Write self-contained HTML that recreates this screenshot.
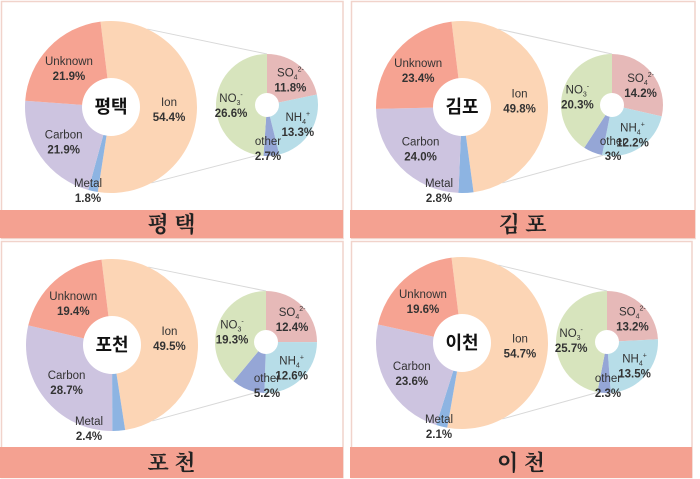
<!DOCTYPE html>
<html><head><meta charset="utf-8"><style>
body{margin:0;background:#fff;}
svg{display:block;font-family:"Liberation Sans","Noto Sans CJK KR",sans-serif;}
</style></head><body>
<svg id="c" width="700" height="479" viewBox="0 0 700 479"></svg>
<script>
const sites = ['평택','김포','포천','이천'];
const mainLabels = ['Ion','Metal','Carbon','Unknown'];
const mainValues = [[54.4,1.8,21.9,21.9],[49.8,2.8,24.0,23.4],[49.5,2.4,28.7,19.4],[54.7,2.1,23.6,19.6]];
const ionLabels = ['SO4','NH4','other','NO3'];
const ionValues = [[11.8,13.3,2.7,26.6],[14.2,12.2,3,20.3],[12.4,12.6,5.2,19.3],[13.2,13.5,2.3,25.7]];
const ionText = [['11.8%','13.3%','2.7%','26.6%'],['14.2%','12.2%','3%','20.3%'],['12.4%','12.6%','5.2%','19.3%'],['13.2%','13.5%','2.3%','25.7%']];

const mainColors=['#fcd5b5','#8db4e2','#cdc4e0','#f6a392'];
const ionColors=['#e6b9b8','#b7dde8','#95a6d6','#d7e4bd'];
const panels=[{x:0,y:0,bx:111,by:107,sx:267,sy:105,bw:343,bt:210,bh:28},
{x:350,y:0,bx:462,by:107,sx:612,sy:105,bw:345,bt:210,bh:28},
{x:0,y:240,bx:112,by:345,sx:266,sy:342,bw:343,bt:447,bh:31},
{x:350,y:240,bx:462,by:343,sx:607,sy:342,bw:342,bt:447,bh:31}];
const svg=document.getElementById('c');
const NS='http://www.w3.org/2000/svg';
function mk(t,a,p){const e=document.createElementNS(NS,t);for(const k in a)e.setAttribute(k,a[k]);(p||svg).appendChild(e);return e;}
function pt(cx,cy,r,deg){const a=(deg-90)*Math.PI/180;return [cx+r*Math.cos(a),cy+r*Math.sin(a)];}
function arc(cx,cy,r,a0,a1){const p0=pt(cx,cy,r,a0),p1=pt(cx,cy,r,a1);const l=(a1-a0)>180?1:0;
return `M${cx},${cy}L${p0[0]},${p0[1]}A${r},${r} 0 ${l} 1 ${p1[0]},${p1[1]}Z`;}
function label(g,x,y,l1,l2){
  const t=mk('text',{x:x,y:y,'text-anchor':'middle','font-size':'11.5','fill':'#333'},g);
  
  
  const s1=mk('tspan',{x:x},t);
  if(l1==='SO4'){s1.textContent='SO';mk('tspan',{'font-size':'7','dy':'3'},t).textContent='4';mk('tspan',{'font-size':'7','dy':'-8'},t).textContent='2-';}
  else if(l1==='NH4'){s1.textContent='NH';mk('tspan',{'font-size':'7','dy':'3'},t).textContent='4';mk('tspan',{'font-size':'7','dy':'-8'},t).textContent='+';}
  else if(l1==='NO3'){s1.textContent='NO';mk('tspan',{'font-size':'7','dy':'3'},t).textContent='3';mk('tspan',{'font-size':'7','dy':'-8'},t).textContent='-';}
  else s1.textContent=l1;
  const s2=mk('tspan',{x:x,y:y+15,'font-weight':'bold'},t);s2.textContent=l2;
}
panels.forEach((p,i)=>{
  const g=mk('g',{});
  
  
  mk('rect',{x:p.x+1.5,y:p.y+1.5,width:p.bw-1.5,height:(i<2?237:236),fill:'none',stroke:'#f1d3cb','stroke-width':'1.5'},g);
  const tb=pt(p.bx,p.by,86,25), bb=pt(p.bx,p.by,86,152);
  mk('line',{x1:tb[0],y1:tb[1],x2:p.sx,y2:p.sy-51,stroke:'#d8d8d8','stroke-width':'1'},g);
  const sb=pt(p.sx,p.sy,51,190);
  mk('line',{x1:bb[0],y1:bb[1],x2:sb[0],y2:sb[1],stroke:'#d8d8d8','stroke-width':'1'},g);
  const mv=mainValues[i], tot=mv.reduce((a,b)=>a+b,0);
  let a=-7;
  const labs=[];
  mv.forEach((v,j)=>{const d=v/tot*360;
    const s=mk('path',{d:arc(p.bx,p.by,86,a,a+d),fill:mainColors[j]},g);
    
    
    const m=a+d/2;
    if(j===1){labs.push([p.bx-23,p.by+80,mainLabels[j],v.toFixed(1)+'%']);}
    else{const lp=pt(p.bx,p.by,58,m);labs.push([lp[0],lp[1]-2,mainLabels[j],v.toFixed(1)+'%']);}
    a+=d;});
  mk('circle',{cx:p.bx,cy:p.by,r:29,fill:'#fff'},g);
  labs.forEach(l=>label(g,l[0],l[1],l[2],l[3]));
  const ct=mk('text',{x:p.bx,y:p.by+6,'text-anchor':'middle','font-size':'18','font-weight':'bold',fill:'#111'},g);
  
  
  ct.textContent=sites[i];
  const iv=ionValues[i], it=iv.reduce((a,b)=>a+b,0);
  let b=0;
  const ilabs=[];
  iv.forEach((v,j)=>{const d=v/it*360;
    const s=mk('path',{d:arc(p.sx,p.sy,51,b,b+d),fill:ionColors[j]},g);
    
    
    const m=b+d/2;
    if(j===2) ilabs.push([p.sx+1,p.sy+40,ionLabels[j],ionText[i][j]]);
    else{const lp=pt(p.sx,p.sy,34,m);ilabs.push([lp[0]+(j===3?-2:2),lp[1]-2,ionLabels[j],ionText[i][j]]);}
    b+=d;});
  mk('circle',{cx:p.sx,cy:p.sy,r:12,fill:'#fff'},g);
  ilabs.forEach(l=>label(g,l[0],l[1],l[2],l[3]));
  const br=mk('rect',{x:p.x,y:p.bt,width:p.bw,height:p.bh,fill:'#f4a191'},g);
  
  
  const bt=mk('text',{x:p.x+p.bw/2,y:p.bt+p.bh/2+8,'text-anchor':'middle','font-size':'22','font-weight':'bold',fill:'#222','font-family':'"Noto Serif CJK SC","Noto Sans CJK KR",serif'},g);
  
  
  bt.textContent=sites[i][0]+' '+sites[i][1];
});
</script>
</body></html>
